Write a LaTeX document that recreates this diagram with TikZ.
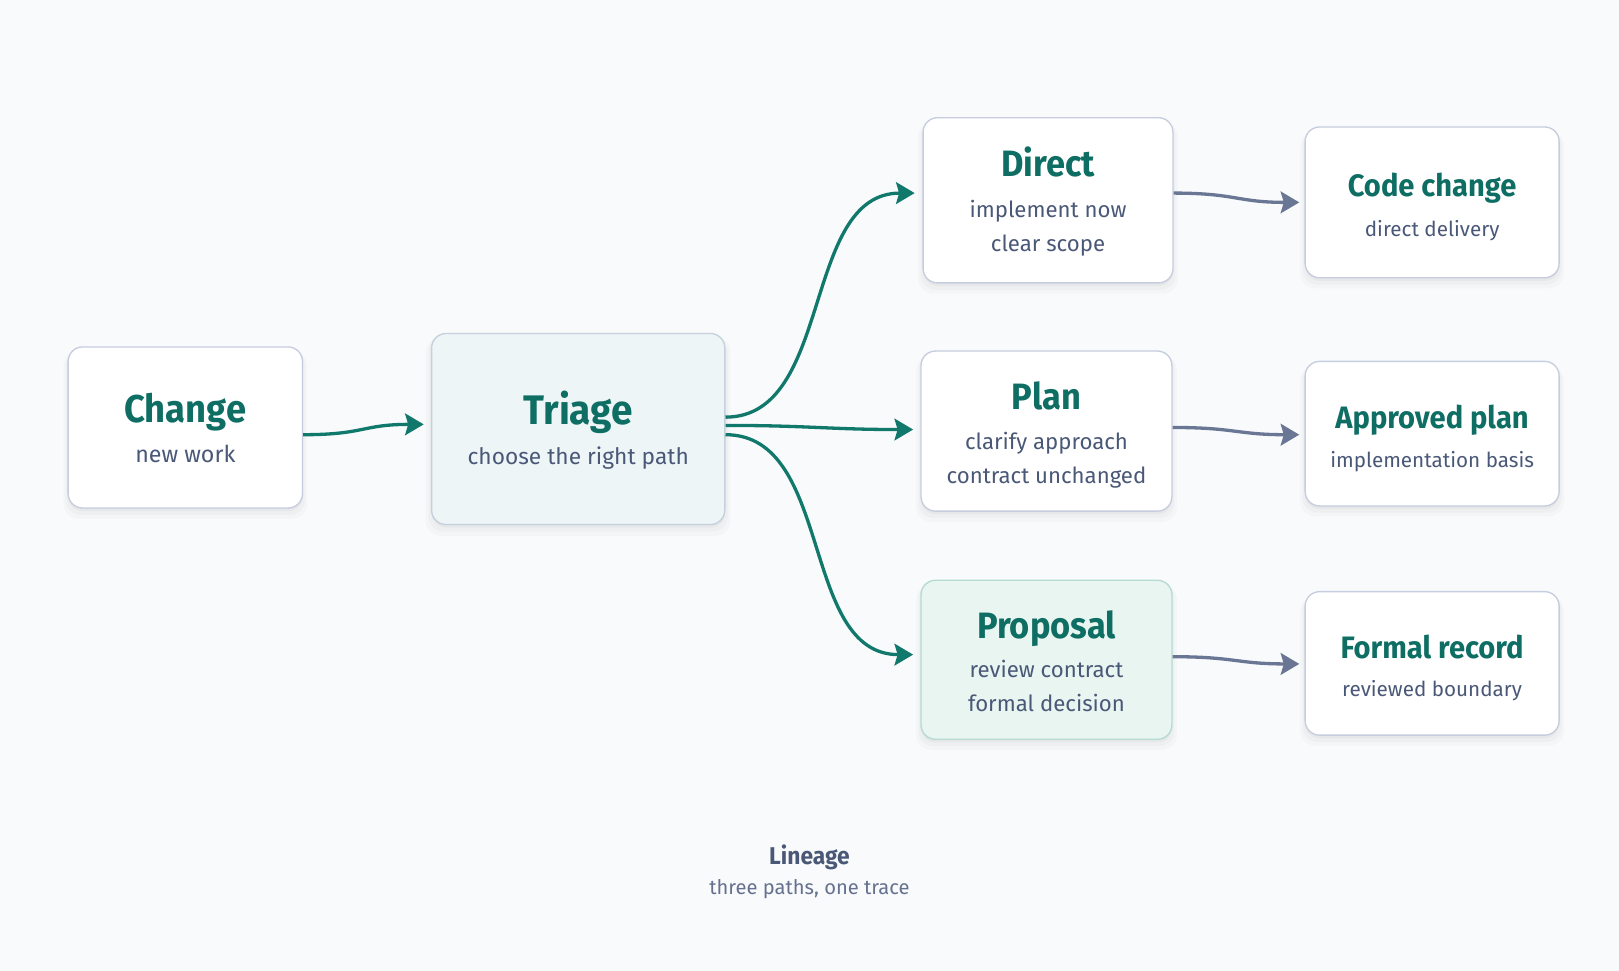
\documentclass[tikz,border=0pt]{standalone}
\usepackage{fontspec}
\setmainfont{Fira Sans}
\newfontfamily\ttlfont[FakeStretch=0.94]{Fira Sans Bold}
\usetikzlibrary{arrows.meta,shadows,calc}
\definecolor{bgc}{HTML}{F9FAFC}
\definecolor{tealT}{HTML}{0E6E63}
\definecolor{tealA}{HTML}{11786C}
\definecolor{slateT}{HTML}{4A5878}
\definecolor{slateL}{HTML}{65718E}
\definecolor{slateA}{HTML}{6A7794}
\definecolor{boxline}{HTML}{C5CDDE}
\definecolor{triagefill}{HTML}{EEF5F7}
\definecolor{triageline}{HTML}{C4D1DC}
\definecolor{propfill}{HTML}{E8F5F0}
\definecolor{propline}{HTML}{B5DBD0}
\tikzset{
  box/.style={draw=boxline, line width=1.3pt, rounded corners=14pt, fill=white,
    drop shadow={shadow xshift=0pt, shadow yshift=-7pt, shadow scale=1.04, opacity=0.018, fill=black},
    drop shadow={shadow xshift=0pt, shadow yshift=-5pt, shadow scale=1.02, opacity=0.025, fill=black},
    drop shadow={shadow xshift=0pt, shadow yshift=-3pt, opacity=0.03, fill=black},
    inner sep=0pt},
  ttl/.style={font=\ttlfont\fontsize{#1}{#1}\selectfont, text=tealT, inner sep=0pt, anchor=base},
  sub/.style={font=\fontsize{#1}{#1}\selectfont, text=slateT, inner sep=0pt, anchor=base},
  tarrow/.style={draw=tealA, line width=3.2pt, -{Stealth[length=18pt,width=21pt,inset=3pt]}},
  sarrow/.style={draw=slateA, line width=3.2pt, -{Stealth[length=18pt,width=21pt,inset=3pt]}},
}
\begin{document}
\begin{tikzpicture}[x=1pt,y=-1pt]
\useasboundingbox (0,0) rectangle (1568,940);
\fill[bgc] (0,0) rectangle (1568,940);

% boxes
\node[box, minimum width=227pt, minimum height=156pt] (change) at (179.5,414) {};
\node[box, fill=triagefill, draw=triageline, minimum width=284pt, minimum height=185pt] (triage) at (560,415.5) {};
\node[box, minimum width=242pt, minimum height=160pt] (direct) at (1015,194) {};
\node[box, minimum width=243pt, minimum height=155pt] (plan) at (1013.5,417.5) {};
\node[box, fill=propfill, draw=propline, minimum width=243pt, minimum height=154pt] (proposal) at (1013.5,639) {};
\node[box, minimum width=246pt, minimum height=146pt] (code) at (1387,196) {};
\node[box, minimum width=246pt, minimum height=140pt] (approved) at (1387,420) {};
\node[box, minimum width=246pt, minimum height=139pt] (formal) at (1387,642.5) {};

% titles
\node[ttl=37.5] (tchange) at (179.5,409.4) {Change};
\node[ttl=40] (ttriage) at (560,411) {Triage};
\node[ttl=35.5] (tdirect) at (1015,171) {Direct};
\node[ttl=35.5] (tplan) at (1013.5,397) {Plan};
\node[ttl=35.5] (tproposal) at (1013.5,618) {Proposal};
\node[ttl=30] (tcode) at (1387,190) {Code change};
\node[ttl=30] (tapproved) at (1387,414.8) {Approved plan};
\node[ttl=30] (tformal) at (1387,638) {Formal record};

% subtitles
\node[sub=22.5] (schange) at (179.5,448) {new work};
\node[sub=22] (striage) at (560,449.5) {choose the right path};
\node[sub=21.5] (sdirect1) at (1015,210.5) {implement now};
\node[sub=21.5] (sdirect2) at (1015,243.7) {clear scope};
\node[sub=21.5] (splan1) at (1013.5,435) {clarify approach};
\node[sub=21.5] (splan2) at (1013.5,468) {contract unchanged};
\node[sub=21.5] (sprop1) at (1013.5,656) {review contract};
\node[sub=21.5] (sprop2) at (1013.5,689) {formal decision};
\node[sub=20] (scode) at (1387,229) {direct delivery};
\node[sub=20] (sapproved) at (1387,452.6) {implementation basis};
\node[sub=20] (sformal) at (1387,675) {reviewed boundary};

% caption
\node[font=\ttlfont\fontsize{23.5}{25}\selectfont, text=slateT, inner sep=0pt, anchor=base] (lineage) at (784,837) {Lineage};
\node[font=\fontsize{19.5}{22}\selectfont, text=slateL, inner sep=0pt, anchor=base] (lineagesub) at (784,866.5) {three paths, one trace};

% connectors
\draw[tarrow] ($(change.east)+(0,7)$) .. controls +(60,0) and +(-60,0) .. ($(triage.west)+(-7,-4.5)$);
\draw[tarrow] ($(triage.east)+(0,-11.5)$) .. controls +(105,0) and +(-110,0) .. ($(direct.west)+(-7.5,-7)$);
\draw[tarrow] ($(triage.east)+(0,-3.5)$) .. controls +(80,0) and +(-80,0) .. ($(plan.west)+(-7,-1.5)$);
\draw[tarrow] ($(triage.east)+(0,5.5)$) .. controls +(105,0) and +(-110,0) .. ($(proposal.west)+(-7,-5)$);
\draw[sarrow] ($(direct.east)+(0,-7)$) .. controls +(60,0) and +(-60,0) .. ($(code.west)+(-5,0)$);
\draw[sarrow] ($(plan.east)+(0,-3.5)$) .. controls +(60,0) and +(-60,0) .. ($(approved.west)+(-5,1)$);
\draw[sarrow] ($(proposal.east)+(0,-3)$) .. controls +(60,0) and +(-60,0) .. ($(formal.west)+(-5,0.5)$);
\end{tikzpicture}
\end{document}
